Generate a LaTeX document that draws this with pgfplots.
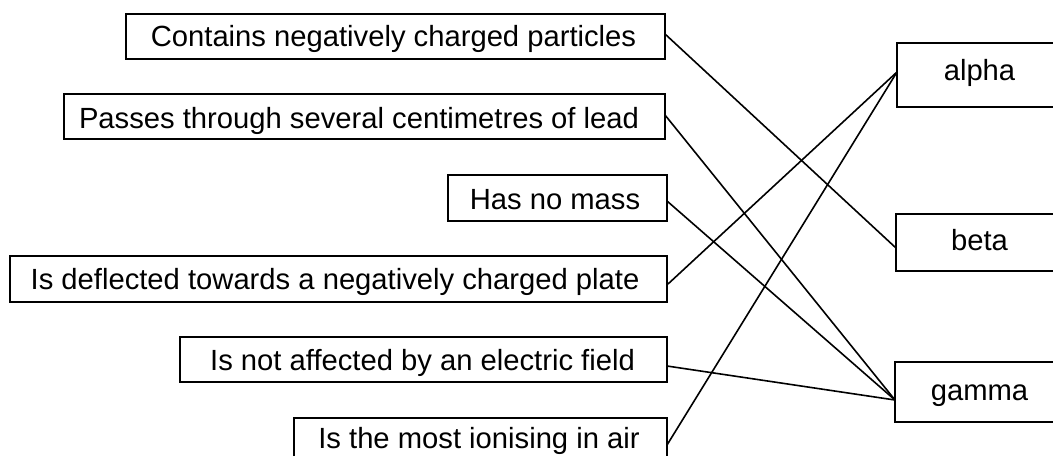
\documentclass[border=0pt]{standalone}
\usepackage{fontspec}
\setmainfont{Liberation Sans}
\usepackage{pgfplots}
\pgfplotsset{compat=1.18}
\newcommand{\fs}{\fontsize{14.6}{17}\selectfont}
\begin{document}
\begin{tikzpicture}
\begin{axis}[width=526.5pt,height=228pt,scale only axis,hide axis,
  xmin=0,xmax=1053,ymin=0,ymax=456,y dir=reverse,clip=false,
  every axis plot/.append style={black,mark=none,line join=miter}]
% left boxes
\addplot[line width=1pt] coordinates {(126,14) (665,14) (665,59) (126,59)} -- cycle;
\addplot[line width=1pt] coordinates {(64,94) (665,94) (665,139) (64,139)} -- cycle;
\addplot[line width=1pt] coordinates {(448,175) (667,175) (667,221) (448,221)} -- cycle;
\addplot[line width=1pt] coordinates {(10,256) (667,256) (667,302) (10,302)} -- cycle;
\addplot[line width=1pt] coordinates {(180,337) (667,337) (667,382) (180,382)} -- cycle;
\addplot[line width=1pt] coordinates {(294,456) (294,418) (667,418) (667,456)};
% right boxes (open at image edge)
\addplot[line width=1pt] coordinates {(1053,43) (897,43) (897,107) (1053,107)};
\addplot[line width=1pt] coordinates {(1053,214) (896,214) (896,271) (1053,271)};
\addplot[line width=1pt] coordinates {(1053,362) (895,362) (895,422) (1053,422)};
% matching lines
\addplot[line width=0.8pt] coordinates {(665,34) (896,248)};
\addplot[line width=0.8pt] coordinates {(665,115) (895,400)};
\addplot[line width=0.8pt] coordinates {(667,201) (895,400)};
\addplot[line width=0.8pt] coordinates {(668,284) (897,72)};
\addplot[line width=0.8pt] coordinates {(667,366) (895,400)};
\addplot[line width=0.8pt] coordinates {(667,445) (897,72)};
% texts
\node[anchor=base,font=\fs,inner sep=0pt] at (axis cs:393.5,46) {Contains negatively charged particles};
\node[anchor=base,font=\fs,inner sep=0pt] at (axis cs:359,128) {Passes through several centimetres of lead};
\node[anchor=base,font=\fs,inner sep=0pt] at (axis cs:555,209) {Has no mass};
\node[anchor=base,font=\fs,inner sep=0pt] at (axis cs:335,289.5) {Is deflected towards a negatively charged plate};
\node[anchor=base,font=\fs,inner sep=0pt] at (axis cs:422.5,370.5) {Is not affected by an electric field};
\node[anchor=base,font=\fs,inner sep=0pt] at (axis cs:479,448) {Is the most ionising in air};
\node[anchor=base,font=\fs,inner sep=0pt] at (axis cs:979.5,80.5) {alpha};
\node[anchor=base,font=\fs,inner sep=0pt] at (axis cs:979.5,250.5) {beta};
\node[anchor=base,font=\fs,inner sep=0pt] at (axis cs:979.5,400) {gamma};
\end{axis}
\pgfresetboundingbox
\useasboundingbox (current axis.south west) rectangle (current axis.north east);
\end{tikzpicture}
\end{document}
